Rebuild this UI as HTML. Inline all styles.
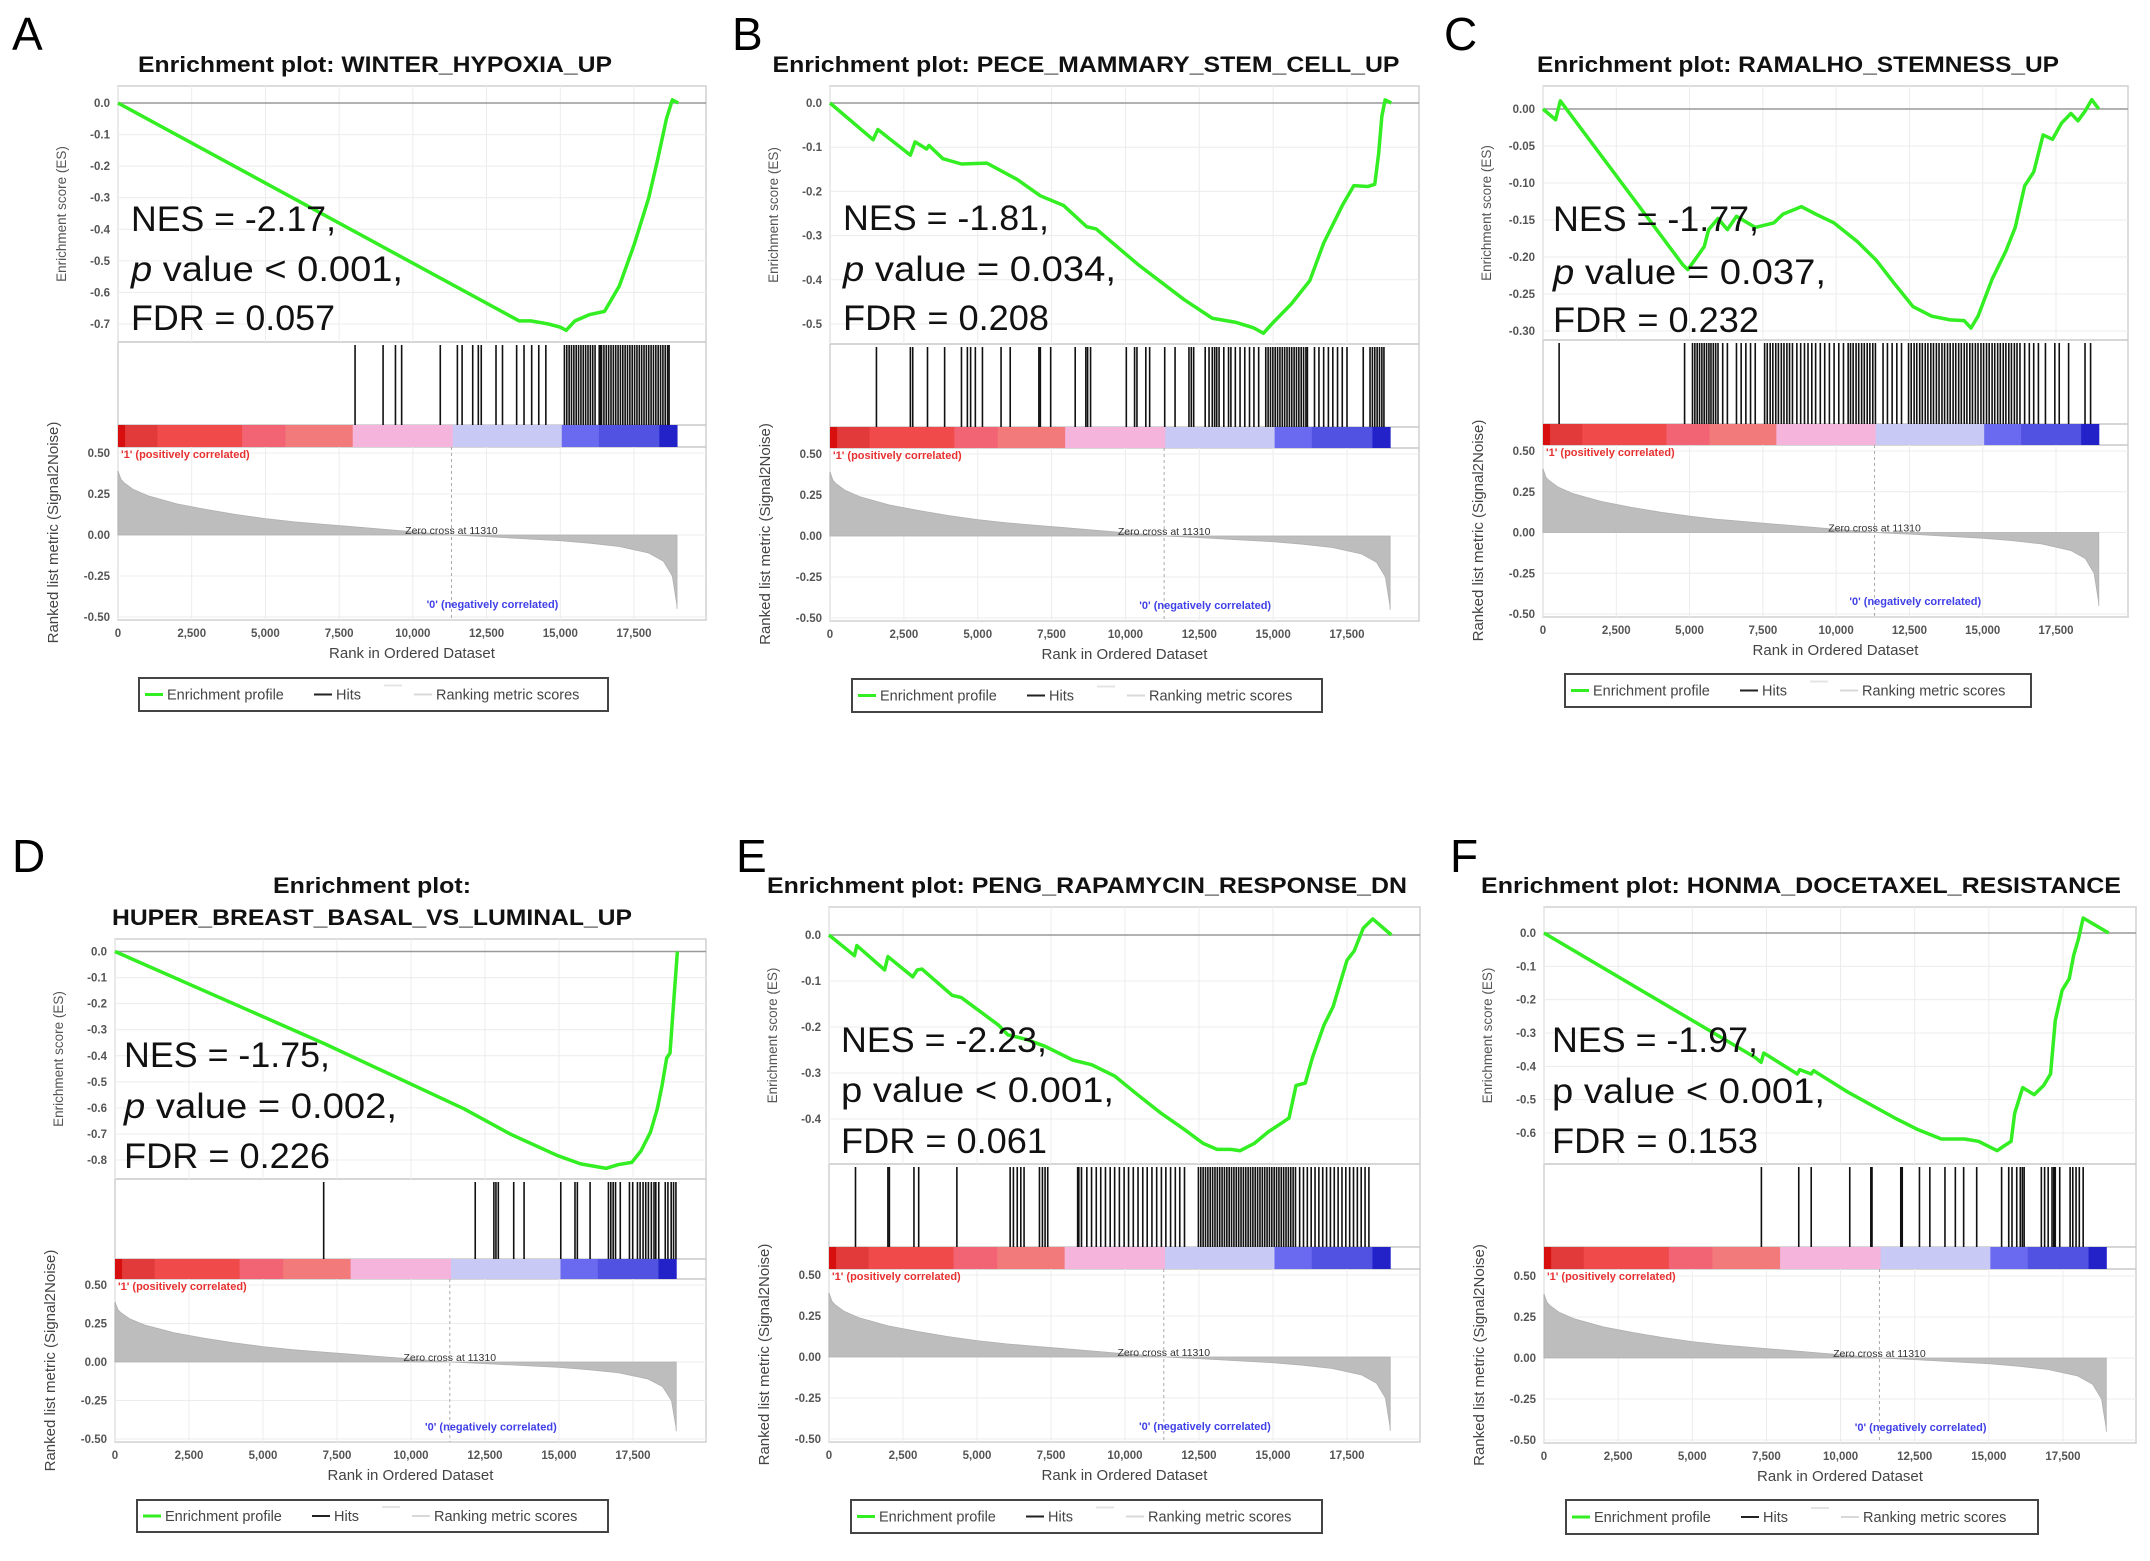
<!DOCTYPE html>
<html><head><meta charset="utf-8"><style>
html,body{margin:0;padding:0;background:#fff;}
svg{display:block;font-family:"Liberation Sans",Arial,sans-serif;}
</style></head><body>
<svg id="fig" width="2150" height="1561" viewBox="0 0 2150 1561" xmlns="http://www.w3.org/2000/svg"></svg>
<script>
// ---- shared data ----
const xTicks = [0, 2500, 5000, 7500, 10000, 12500, 15000, 17500];
const xTickLabels = ["0","2,500","5,000","7,500","10,000","12,500","15,000","17,500"];
const metricTicks = [0.5, 0.25, 0, -0.25, -0.5];
const metricTickLabels = ["0.50","0.25","0.00","-0.25","-0.50"];
const metricRank = [0,100,200,500,1000,1500,2000,3000,4000,5000,6000,7000,8000,9000,10000,11310,12500,14000,15000,16000,17000,18000,18500,18800,18950,18960];
const metricVal = [0.39,0.34,0.32,0.28,0.24,0.215,0.19,0.155,0.125,0.10,0.08,0.065,0.05,0.035,0.02,0,-0.01,-0.025,-0.035,-0.05,-0.07,-0.11,-0.16,-0.25,-0.42,-0.45];
const zeroCross = 11310;
const colorBarRank = [0,240,1340,4210,5680,7960,11350,15050,16310,18360,18960];
const colorBarFill = ["#d80f0f","#e23a3a","#f04a4a","#f26474","#f27a7a","#f4b4dc","#c9c9f5","#6a6af0","#5252e2","#2222c8"];

// ---- panel data ----
const esTicksA=[0,-0.1,-0.2,-0.3,-0.4,-0.5,-0.6,-0.7];
const esLabelsA=["0.0","-0.1","-0.2","-0.3","-0.4","-0.5","-0.6","-0.7"];
const esRankA=[0,13600,14000,14600,15000,15200,15500,16000,16500,17000,17500,18000,18300,18600,18800,19000];
const esValA=[0,-0.69,-0.69,-0.70,-0.71,-0.72,-0.69,-0.67,-0.66,-0.58,-0.45,-0.30,-0.18,-0.05,0.01,0.0];
const hitsA=[8040,8990,9410,9620,10930,11510,11670,12030,12220,12320,12820,13040,13520,13770,14030,14270,14510,15140,15220,15300,15380,15460,15540,15620,15700,15780,15860,15940,16020,16100,16180,16320,16360,16400,16480,16560,16640,16720,16800,16880,16960,17040,17120,17200,17280,17360,17440,17520,17600,17680,17760,17840,17920,18000,18080,18160,18240,18320,18400,18480,18560,18640,18690];

const esTicksB=[0,-0.1,-0.2,-0.3,-0.4,-0.5];
const esLabelsB=["0.0","-0.1","-0.2","-0.3","-0.4","-0.5"];
const esRankB=[0,1460,1620,2720,2880,3270,3350,3820,4450,5310,6335,7120,7910,8690,9010,10420,11990,12940,13720,14350,14670,14980,15610,16240,16710,17340,17730,18200,18440,18570,18680,18790,19000];
const esValB=[0,-0.083,-0.06,-0.118,-0.088,-0.104,-0.096,-0.126,-0.138,-0.136,-0.173,-0.21,-0.232,-0.28,-0.285,-0.365,-0.445,-0.487,-0.496,-0.509,-0.521,-0.498,-0.455,-0.402,-0.317,-0.232,-0.187,-0.189,-0.184,-0.115,-0.03,0.007,0];
const hitsB=[1572,2720,2800,3300,3880,4450,4650,4760,4920,5160,5790,6100,7070,7120,7470,8300,8660,8720,8820,10030,10310,10390,10690,10820,11330,11680,12150,12230,12310,12700,12830,12940,13020,13090,13170,13330,13490,13570,13720,13880,14040,14200,14350,14510,14750,14830,14910,14990,15070,15150,15230,15310,15390,15470,15550,15630,15710,15790,15870,15950,16030,16110,16160,16400,16550,16710,16870,17020,17180,17340,17500,18050,18280,18360,18440,18520,18600,18680,18750];

const esTicksC=[0,-0.05,-0.1,-0.15,-0.2,-0.25,-0.3];
const esLabelsC=["0.00","-0.05","-0.10","-0.15","-0.20","-0.25","-0.30"];
const esRankC=[0,430,590,4780,4940,5180,5500,5650,5970,6290,6600,7240,7870,8190,8820,9300,9930,10720,11360,11990,12620,13260,13890,14370,14600,14840,15320,15790,16110,16430,16740,17060,17380,17690,18010,18250,18490,18720,18960];
const esValC=[0,-0.0145,0.011,-0.211,-0.217,-0.204,-0.186,-0.163,-0.148,-0.163,-0.145,-0.16,-0.154,-0.142,-0.132,-0.142,-0.154,-0.179,-0.204,-0.236,-0.267,-0.28,-0.285,-0.286,-0.296,-0.28,-0.23,-0.192,-0.16,-0.104,-0.085,-0.035,-0.041,-0.019,-0.006,-0.016,-0.003,0.0126,0];
const hitsC=[550,4830,5100,5180,5260,5340,5420,5500,5580,5660,5730,5810,5890,5970,6130,6290,6600,6760,6920,7080,7240,7560,7650,7750,7840,7940,8030,8130,8220,8320,8410,8510,8660,8790,8920,9040,9170,9300,9460,9610,9770,9930,10090,10250,10410,10490,10580,10680,10770,10870,10960,11060,11150,11250,11340,11600,11750,11910,12070,12230,12470,12560,12660,12750,12850,12940,13040,13130,13230,13320,13420,13510,13610,13700,13800,13890,13990,14080,14180,14270,14370,14460,14560,14650,14750,14840,14940,15030,15130,15220,15320,15410,15510,15600,15700,15790,15890,15980,16080,16170,16270,16430,16590,16740,16900,17140,17460,17610,17930,18490,18680];

const esTicksD=[0,-0.1,-0.2,-0.3,-0.4,-0.5,-0.6,-0.7,-0.8];
const esLabelsD=["0.0","-0.1","-0.2","-0.3","-0.4","-0.5","-0.6","-0.7","-0.8"];
const esRankD=[0,7100,11800,13380,14950,15730,16600,16990,17460,17770,18090,18320,18480,18640,18750,18840,18920,19000];
const esValD=[0,-0.355,-0.604,-0.702,-0.783,-0.815,-0.832,-0.818,-0.809,-0.765,-0.693,-0.604,-0.515,-0.408,-0.39,-0.248,-0.123,0];
const hitsD=[7050,12170,12800,12870,12950,13470,13820,15060,15540,15620,16050,16670,16750,16830,16910,17070,17380,17490,17650,17740,17840,17930,18020,18120,18210,18270,18370,18590,18680,18790,18870,18950];

const esTicksE=[0,-0.1,-0.2,-0.3,-0.4];
const esLabelsE=["0.0","-0.1","-0.2","-0.3","-0.4"];
const esRankE=[0,860,940,1880,1990,2830,2980,3140,4160,4470,5730,6040,6670,7300,8240,8870,9660,10440,11230,12010,12640,13110,13580,13890,14370,14840,15310,15540,15780,16090,16330,16720,17030,17500,17740,18050,18370,19000];
const esValE=[0,-0.045,-0.023,-0.076,-0.047,-0.091,-0.076,-0.074,-0.131,-0.136,-0.196,-0.217,-0.227,-0.242,-0.272,-0.282,-0.307,-0.348,-0.388,-0.423,-0.453,-0.466,-0.466,-0.469,-0.453,-0.428,-0.408,-0.398,-0.327,-0.322,-0.267,-0.196,-0.156,-0.055,-0.035,0.015,0.035,0];
const hitsE=[895,1990,2040,2870,3030,4320,6120,6230,6360,6480,6590,7110,7210,7300,7390,8400,8440,8530,8710,8870,9030,9180,9340,9500,9650,9810,9970,10120,10280,10440,10600,10750,10910,11070,11230,11380,11540,11700,11850,12010,12480,12560,12640,12720,12800,12880,12960,13040,13120,13200,13280,13360,13440,13520,13600,13680,13760,13840,13920,14000,14080,14160,14240,14320,14400,14480,14560,14640,14720,14800,14880,14960,15040,15120,15200,15280,15360,15440,15520,15600,15680,15760,15900,16030,16160,16290,16420,16550,16680,16810,16940,17070,17200,17330,17460,17590,17720,17850,17980,18110,18240];

const esTicksF=[0,-0.1,-0.2,-0.3,-0.4,-0.5,-0.6];
const esLabelsF=["0.0","-0.1","-0.2","-0.3","-0.4","-0.5","-0.6"];
const esRankF=[0,7130,7320,7410,8540,8620,9010,9090,10260,11830,12610,13400,14180,14650,15280,15510,15750,15870,16140,16530,16850,17080,17240,17470,17710,17860,18020,18180,19040];
const esValF=[0,-0.374,-0.388,-0.36,-0.423,-0.41,-0.423,-0.413,-0.478,-0.555,-0.59,-0.618,-0.618,-0.625,-0.653,-0.639,-0.625,-0.541,-0.464,-0.485,-0.457,-0.423,-0.262,-0.172,-0.137,-0.067,-0.018,0.045,0];
const hitsF=[7330,8590,9010,10310,11020,11060,12030,12080,12660,13010,13520,13870,14150,14590,15430,15670,15780,15940,16060,16130,16190,16770,16880,17000,17130,17190,17240,17390,17740,17830,17940,18050,18180];

// ---- layout (geometry only) ----
const panels = [
 {id:"a",letter:"A",lx:12,ly:50,title:["Enrichment plot: WINTER_HYPOXIA_UP"],tx:375,ty:[72],tw:[474],
  L:118,R:706,T:86,y0:103,y1:324,EB:342,CB:425,CBb:447,mt:453,mb:617,x0:118,x1:634,
  lg:[139,678,469,33],stat:["NES = -2.17,","p value < 0.001,","FDR = 0.057"],italicP:true,sx:131,sy:[231,281,330],sw:[205,272,204],
  ticks:esTicksA,labels:esLabelsA,er:esRankA,ev:esValA,hits:hitsA},
 {id:"b",letter:"B",lx:732,ly:50,title:["Enrichment plot: PECE_MAMMARY_STEM_CELL_UP"],tx:1086,ty:[72],tw:[627],
  L:830,R:1419,T:86,y0:103,y1:324,EB:344,CB:427,CBb:448,mt:454,mb:618,x0:830,x1:1347,
  lg:[852,679,470,33],stat:["NES = -1.81,","p value = 0.034,","FDR = 0.208"],italicP:true,sx:843,sy:[230,281,330],sw:[206,273,206],
  ticks:esTicksB,labels:esLabelsB,er:esRankB,ev:esValB,hits:hitsB},
 {id:"c",letter:"C",lx:1444,ly:50,title:["Enrichment plot: RAMALHO_STEMNESS_UP"],tx:1798,ty:[72],tw:[522],
  L:1543,R:2128,T:86,y0:109,y1:331,EB:340,CB:424,CBb:445,mt:451,mb:614,x0:1543,x1:2056,
  lg:[1565,674,466,33],stat:["NES = -1.77,","p value = 0.037,","FDR = 0.232"],italicP:true,sx:1553,sy:[231,284,332],sw:[206,273,206],
  ticks:esTicksC,labels:esLabelsC,er:esRankC,ev:esValC,hits:hitsC},
 {id:"d",letter:"D",lx:12,ly:872,title:["Enrichment plot:","HUPER_BREAST_BASAL_VS_LUMINAL_UP"],tx:372,ty:[893,925],tw:[198,520],
  L:115,R:706,T:939,y0:951.5,y1:1160,EB:1179,CB:1259,CBb:1279,mt:1285,mb:1439,x0:115,x1:633,
  lg:[137,1500,471,32],stat:["NES = -1.75,","p value = 0.002,","FDR = 0.226"],italicP:true,sx:124,sy:[1067,1118,1168],sw:[206,273,206],
  ticks:esTicksD,labels:esLabelsD,er:esRankD,ev:esValD,hits:hitsD},
 {id:"e",letter:"E",lx:736,ly:872,title:["Enrichment plot: PENG_RAPAMYCIN_RESPONSE_DN"],tx:1087,ty:[893],tw:[640],
  L:829,R:1420,T:907,y0:935,y1:1119,EB:1164,CB:1247,CBb:1269,mt:1275,mb:1439,x0:829,x1:1347,
  lg:[851,1500,471,33],stat:["NES = -2.23,","p value < 0.001,","FDR = 0.061"],italicP:false,sx:841,sy:[1052,1102,1153],sw:[206,273,206],
  ticks:esTicksE,labels:esLabelsE,er:esRankE,ev:esValE,hits:hitsE},
 {id:"f",letter:"F",lx:1450,ly:872,title:["Enrichment plot: HONMA_DOCETAXEL_RESISTANCE"],tx:1801,ty:[893],tw:[640],
  L:1544,R:2136,T:907,y0:933,y1:1133,EB:1164,CB:1247,CBb:1269,mt:1276,mb:1440,x0:1544,x1:2063,
  lg:[1566,1500,472,34],stat:["NES = -1.97,","p value < 0.001,","FDR = 0.153"],italicP:false,sx:1552,sy:[1052,1103,1153],sw:[206,273,206],
  ticks:esTicksF,labels:esLabelsF,er:esRankF,ev:esValF,hits:hitsF}
];

const NS="http://www.w3.org/2000/svg";
const svg=document.getElementById('fig');
function mk(tag, parent, attrs, text){
  const e=document.createElementNS(NS,tag);
  for(const k in attrs) e.setAttribute(k,attrs[k]);
  if(text!==undefined) e.textContent=text;
  parent.appendChild(e); return e;
}

panels.forEach(p=>{
  const g=mk('g',svg,{});
  
  
  const X=r=>p.x0+r*(p.x1-p.x0)/17500;
  const minT=p.ticks[p.ticks.length-1];
  const Y=v=>p.y0+(v/minT)*(p.y1-p.y0);
  const M=v=>p.mt+(0.5-v)*(p.mb-p.mt);
  const B=p.mb+3;

  let t=mk('text',g,{x:p.lx,y:p.ly,'font-size':46,fill:'#000'},p.letter);
  
  
  p.title.forEach((s,i)=>{
    const tt=mk('text',g,{x:p.tx,y:p.ty[i],'font-size':22,'font-weight':'bold','text-anchor':'middle',textLength:p.tw[i],lengthAdjust:'spacingAndGlyphs',fill:'#111'},s);
    
    
  });

  // frames
  mk('rect',g,{x:p.L,y:p.T,width:p.R-p.L,height:B-p.T,fill:'none',stroke:'#d0d0d0','stroke-width':1.5});
  mk('line',g,{x1:p.L,x2:p.R,y1:p.EB,y2:p.EB,stroke:'#c8c8c8','stroke-width':1.5});
  mk('line',g,{x1:p.L,x2:p.R,y1:p.CB,y2:p.CB,stroke:'#c8c8c8','stroke-width':1.5});
  mk('line',g,{x1:p.L,x2:p.R,y1:p.CBb,y2:p.CBb,stroke:'#c8c8c8','stroke-width':1.5});
  // grid
  xTicks.forEach(r=>{
    mk('line',g,{x1:X(r),x2:X(r),y1:p.T,y2:p.EB,stroke:'#ececec','stroke-width':1});
    mk('line',g,{x1:X(r),x2:X(r),y1:p.CBb,y2:B,stroke:'#ececec','stroke-width':1});
  });
  p.ticks.forEach((v,i)=>{
    if(v!==0) mk('line',g,{x1:p.L,x2:p.R,y1:Y(v),y2:Y(v),stroke:'#ececec','stroke-width':1});
    const tl=mk('text',g,{x:p.L-8,y:Y(v)+4,'font-size':11.5,'font-weight':'bold','text-anchor':'end',fill:'#555'},p.labels[i]);
    
    
  });
  metricTicks.forEach((v,i)=>{
    mk('line',g,{x1:p.L,x2:p.R,y1:M(v),y2:M(v),stroke:'#ececec','stroke-width':1});
    const tl=mk('text',g,{x:p.L-8,y:M(v)+4,'font-size':11.5,'font-weight':'bold','text-anchor':'end',fill:'#555'},metricTickLabels[i]);
    
    
  });
  mk('line',g,{x1:p.L,x2:p.R,y1:Y(0),y2:Y(0),stroke:'#999','stroke-width':1.5});
  xTicks.forEach((r,i)=>{
    const tl=mk('text',g,{x:X(r),y:B+17,'font-size':11.5,'font-weight':'bold','text-anchor':'middle',fill:'#555'},xTickLabels[i]);
    
    
  });
  const midX=(p.L+p.R)/2;
  t=mk('text',g,{x:midX,y:B+38,'font-size':15,'text-anchor':'middle',fill:'#444'},'Rank in Ordered Dataset');
  
  
  const ey=(p.T+p.EB)/2;
  t=mk('text',g,{x:p.L-52,y:ey,'font-size':13.5,'text-anchor':'middle',fill:'#555',transform:`rotate(-90 ${p.L-52} ${ey})`},'Enrichment score (ES)');
  
  
  const my=(p.CB+B)/2+10;
  t=mk('text',g,{x:p.L-60,y:my,'font-size':15,'text-anchor':'middle',fill:'#444',transform:`rotate(-90 ${p.L-60} ${my})`},'Ranked list metric (Signal2Noise)');
  
  

  // hits
  p.hits.forEach(r=>{
    const h=mk('line',g,{x1:X(r),x2:X(r),y1:p.EB+3,y2:p.CB,stroke:'#111','stroke-width':1.6});
    
    
  });
  // color bar
  colorBarFill.forEach((c,i)=>{
    const cb=mk('rect',g,{x:X(colorBarRank[i]),y:p.CB,width:X(colorBarRank[i+1])-X(colorBarRank[i])+0.5,height:p.CBb-p.CB,fill:c});
    
    
  });
  // metric area
  let d=`M${X(metricRank[0])},${M(0)}`;
  metricRank.forEach((r,i)=>{d+=` L${X(r)},${M(metricVal[i])}`;});
  d+=` L${X(metricRank[metricRank.length-1])},${M(0)} Z`;
  const area=mk('path',g,{d:d,fill:'#bdbdbd',stroke:'#b0b0b0','stroke-width':0.8});
  
  
  mk('line',g,{x1:X(zeroCross),x2:X(zeroCross),y1:p.CBb,y2:B,stroke:'#aaa','stroke-width':1,'stroke-dasharray':'3,3'});
  t=mk('text',g,{x:X(zeroCross),y:M(0)-1,'font-size':10.5,'text-anchor':'middle',fill:'#333'},'Zero cross at '+zeroCross);
  
  
  t=mk('text',g,{x:p.L+3,y:p.CBb+11,'font-size':11,'font-weight':'bold',fill:'#e83030'},"'1' (positively correlated)");
  
  
  t=mk('text',g,{x:X(12700),y:M(-0.42)+4,'font-size':11,'font-weight':'bold','text-anchor':'middle',fill:'#4040e8'},"'0' (negatively correlated)");
  
  

  // ES curve
  const pts=p.er.map((r,i)=>X(r)+','+Y(p.ev[i])).join(' ');
  const es=mk('polyline',g,{points:pts,fill:'none',stroke:'#33ee22','stroke-width':3.5,'stroke-linejoin':'round'});
  
  

  // stats
  p.stat.forEach((s,i)=>{
    const st=mk('text',g,{x:p.sx,y:p.sy[i],'font-size':35,fill:'#111',textLength:p.sw[i],lengthAdjust:'spacingAndGlyphs'});
    
    
    if(i===1){
      mk('tspan',st,{'font-style':p.italicP?'italic':'normal'},'p');
      mk('tspan',st,{},s.slice(1));
    } else st.textContent=s;
  });

  // legend
  const [lx,ly,lw,lh]=p.lg;
  const lgG=mk('g',g,{});
  
  
  mk('rect',lgG,{x:lx,y:ly,width:lw,height:lh,fill:'#fff',stroke:'#444','stroke-width':2});
  const cy=ly+lh/2;
  mk('line',lgG,{x1:lx+6,x2:lx+24,y1:cy,y2:cy,stroke:'#33ee22','stroke-width':3});
  mk('text',lgG,{x:lx+28,y:cy+5,'font-size':14.5,fill:'#444'},'Enrichment profile');
  mk('line',lgG,{x1:lx+175,x2:lx+193,y1:cy,y2:cy,stroke:'#222','stroke-width':2});
  mk('text',lgG,{x:lx+197,y:cy+5,'font-size':14.5,fill:'#444'},'Hits');
  mk('line',lgG,{x1:lx+245,x2:lx+263,y1:cy-9,y2:cy-9,stroke:'#e4e4e4','stroke-width':2});
  mk('line',lgG,{x1:lx+275,x2:lx+293,y1:cy,y2:cy,stroke:'#d8d8d8','stroke-width':2});
  mk('text',lgG,{x:lx+297,y:cy+5,'font-size':14.5,fill:'#444'},'Ranking metric scores');
});
</script>
</body></html>
